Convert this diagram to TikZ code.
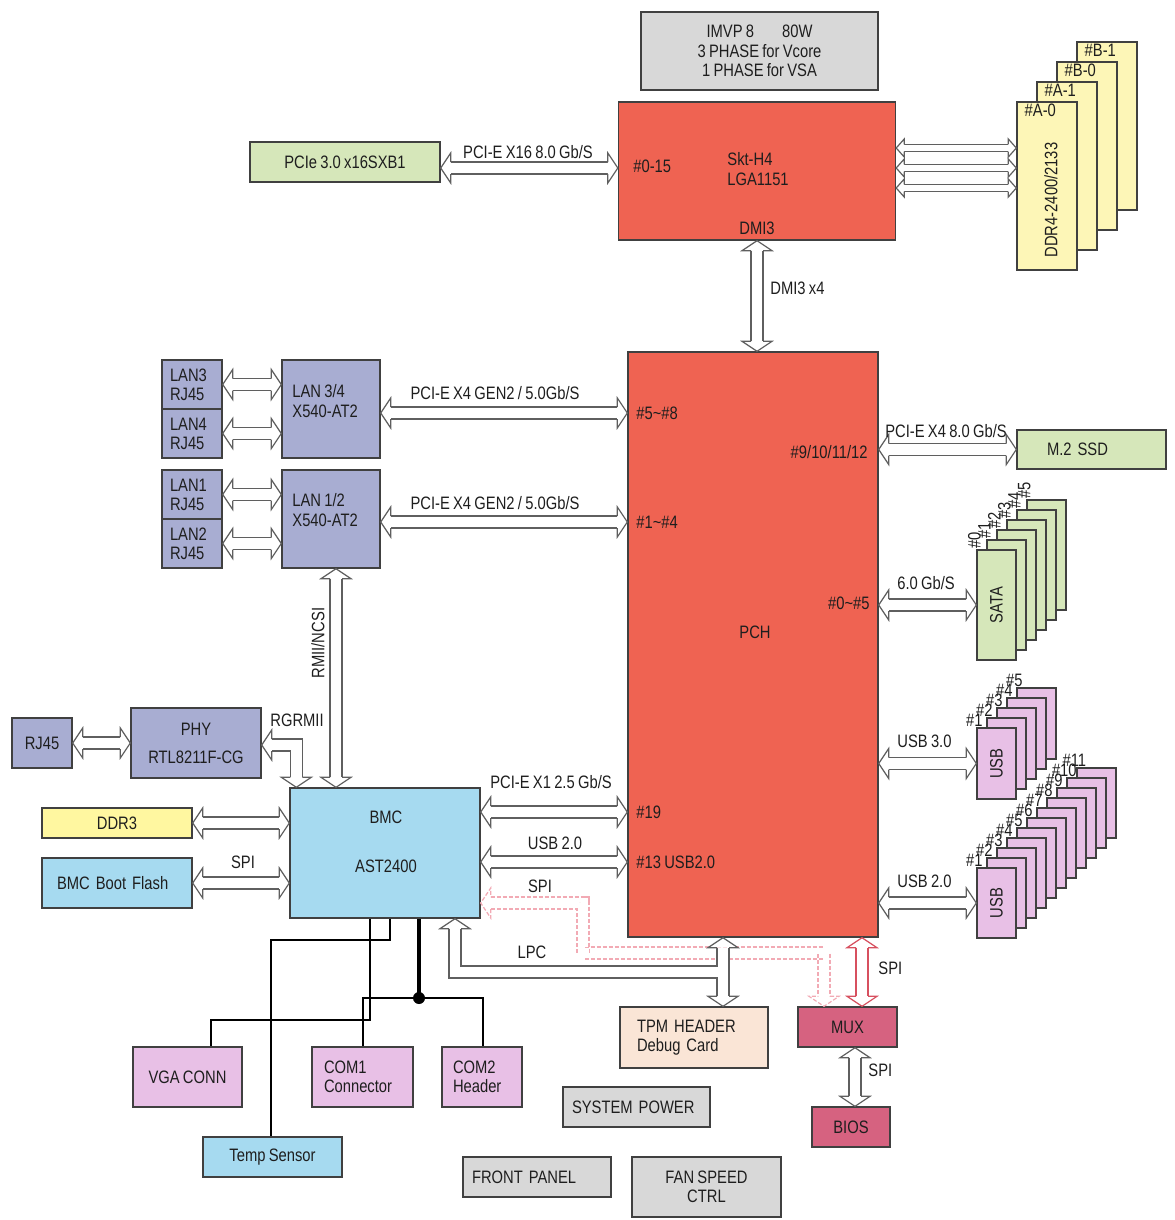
\documentclass[tikz,border=0pt]{standalone}
\usepackage{fontspec}
\setmainfont{Liberation Sans}[FakeStretch=0.82,WordSpace=0.8]
\usetikzlibrary{calc,decorations.markings}

\definecolor{ink}{RGB}{30,30,30}
\definecolor{edge}{RGB}{64,64,64}
\definecolor{arrowgray}{RGB}{95,95,95}
\definecolor{cpured}{RGB}{239,99,82}
\definecolor{lav}{RGB}{168,173,210}
\definecolor{mint}{RGB}{214,231,186}
\definecolor{cream}{RGB}{253,246,183}
\definecolor{butter}{RGB}{255,247,160}
\definecolor{sky}{RGB}{166,218,240}
\definecolor{orchid}{RGB}{232,192,230}
\definecolor{peach}{RGB}{250,229,214}
\definecolor{rose}{RGB}{214,98,128}
\definecolor{ash}{RGB}{216,216,216}
\definecolor{spired}{RGB}{215,80,95}
\definecolor{spipale}{RGB}{242,170,180}

\newcommand\dgfont{\fontsize{9}{9.6}\selectfont}
\newcommand\fhl{5pt}
\newcommand\fhw{7.5pt}
\newcommand\fsw{3pt}
% hollow head, tip at the origin, pointing along +x
\newcommand\drawhead[1]{%
  \fill[white] (0,0) -- (-\fhl,\fhw) -- (-\fhl,-\fhw) -- cycle;
  \draw[draw=#1, shorten <=0pt, shorten >=0pt] (-\fhl,\fsw) -- (-\fhl,\fhw)
    -- (0,0) -- (-\fhl,-\fhw) -- (-\fhl,-\fsw);}

\tikzset{
  box/.style={draw=edge, line width=.7pt, inner sep=0pt, font=\dgfont,
    text=ink, align=center},
  sz/.style 2 args={minimum width=#1*0.5pt, minimum height=#2*0.5pt},
  txt/.style={font=\dgfont, text=ink, inner sep=1pt},
  wire/.style={draw=black, line width=1.2pt},
  shaft/.style={draw=#1, double=white, double distance=5.4pt, line width=.6pt},
  headstart/.style={postaction={decorate, decoration={markings,
    mark=at position 0 with {\begin{scope}[rotate=180]\drawhead{#1}\end{scope}}}}},
  headend/.style={postaction={decorate, decoration={markings,
    mark=at position 1 with {\drawhead{#1}}}}},
  fat/.style={shaft=#1, shorten <=\fhl, shorten >=\fhl, headstart=#1,
    headend=#1},
  fat/.default=arrowgray,
  fatone/.style={shaft=#1, shorten <=\fhl, headstart=#1},
  fatone/.default=arrowgray,
  fatsm/.style={/utils/exec={\def\fhl{4pt}\def\fhw{4.5pt}\def\fsw{1.8pt}},
    fat, double distance=3pt},
}

\begin{document}
\begin{tikzpicture}[x=0.5pt,y=-0.5pt,line join=miter]
  \useasboundingbox (0,0) rectangle (1174,1220);

  % CPU, VR and memory
  \node[box, fill=ash, sz={237}{78}] (vr) at (759.5,51)
    {IMVP 8\hspace{14pt}80W\\3 PHASE for Vcore\\1 PHASE for VSA};
  \node[box, fill=cpured, sz={277}{138}] (cpu) at (757,171) {};
  \node[txt, anchor=west, align=left] (skt) at (725,169) {Skt-H4\\LGA1151};
  \node[txt, anchor=west] (cpu015) at (631,166) {\#0-15};
  \node[txt] (cpudmi) at (757,228) {DMI3};
  \node[box, fill=mint, sz={190}{40}] (pcie) at (345,162) {PCIe 3.0 x16SXB1};
  \foreach \k/\nm in {3/B-1,2/B-0,1/A-1,0/A-0}{
    \node[box, fill=cream, sz={60}{168}] (ddr\k) at (1047+20*\k,186-20*\k) {};
    \node[txt, anchor=west] (ddrl\k) at ([xshift=3pt,yshift=-4.5pt]ddr\k.north west)
      {\#\nm};
  }
  \node[txt, rotate=90] (ddrtxt) at (1051,200) {DDR4-2400/2133};

  % PCH and its ports
  \node[box, fill=cpured, sz={250}{585}] (pch) at (753,644.5) {};
  \node[txt] (pchname) at (755,632) {PCH};
  \node[txt, anchor=west] (p58) at (634,413) {\#5\textasciitilde\#8};
  \node[txt, anchor=west] (p14) at (634,522) {\#1\textasciitilde\#4};
  \node[txt, anchor=east] (p912) at (870,452) {\#9/10/11/12};
  \node[txt, anchor=east] (p05) at (872,603) {\#0\textasciitilde\#5};
  \node[txt, anchor=west] (p19) at (634,812) {\#19};
  \node[txt, anchor=west] (p13) at (634,862) {\#13 USB2.0};

  \node[box, fill=lav, sz={98}{98}] (lan34) at (331,409) {};
  \node[txt, anchor=west, align=left] (lan34t) at (290,401) {LAN 3/4\\X540-AT2};
  \node[box, fill=lav, sz={98}{98}] (lan12) at (331,519) {};
  \node[txt, anchor=west, align=left] (lan12t) at (290,510) {LAN 1/2\\X540-AT2};
  \foreach \nm/\y/\lanname in {rj3/384.5/LAN3,rj4/433.5/LAN4,rj1/494.5/LAN1,rj2/543.5/LAN2}
    \node[box, fill=lav, sz={60}{49}, align=left, text width=22pt,
      inner xsep=4pt] (\nm) at (192,\y) {\lanname\\RJ45};

  \node[box, fill=mint, sz={149}{39}, align=left, text width=44.5pt,
    inner xsep=15pt] (m2) at (1091.5,449.5) {M.2 SSD};
  \foreach \k in {5,...,0}{
    \node[box, fill=mint, sz={39}{110}] (sata\k) at (996.5+10*\k,605-10*\k) {};
    \node[txt, rotate=90, anchor=west, inner sep=0pt] (satal\k)
      at ([xshift=-1pt]sata\k.north west) {\#\k};
  }
  \node[txt, rotate=90] (satat) at (sata0) {SATA};
  \foreach \k in {5,...,1}{
    \node[box, fill=orchid, sz={39}{71}] (usbt\k) at (986.5+10*\k,773.5-10*\k) {};
    \node[txt, anchor=south, inner sep=0pt] (usbtl\k)
      at ([xshift=-1pt]usbt\k.north west) {\#\k};
  }
  \node[txt, rotate=90] (usbtt) at (usbt1) {USB};
  \foreach \k in {11,...,1}{
    \node[box, fill=orchid, sz={39}{70}] (usbs\k) at (986.5+10*\k,913-10*\k) {};
    \node[txt, anchor=south, inner sep=0pt] (usbsl\k)
      at ([xshift=-1pt]usbs\k.north west) {\#\k};
  }
  \node[txt, rotate=90] (usbst) at (usbs1) {USB};

  % BMC side
  \node[box, fill=lav, sz={60}{50}] (rjm) at (42,743) {RJ45};
  \node[box, fill=lav, sz={130}{70}] (phy) at (196,743) {PHY\\[4.5pt]RTL8211F-CG};
  \node[box, fill=sky, sz={190}{130}] (bmc) at (385,853) {};
  \node[txt, align=center] (bmct) at (386,842) {BMC\\[15pt]AST2400};
  \node[box, fill=butter, sz={150}{30}] (ddr3) at (117,823) {DDR3};
  \node[box, fill=sky, sz={150}{50}, align=left, text width=60pt,
    inner xsep=7.5pt] (flash) at (117,883) {BMC Boot Flash};

  % bottom row
  \node[box, fill=peach, sz={148}{61}, align=left, text width=57pt,
    inner xsep=8.5pt] (tpm) at (694,1037.5) {TPM HEADER\\Debug Card};
  \node[box, fill=rose, sz={99}{40}] (mux) at (847.5,1027) {MUX};
  \node[box, fill=rose, sz={78}{40}] (bios) at (851,1127) {BIOS};
  \node[box, fill=orchid, sz={109}{60}] (vga) at (187.5,1077) {VGA CONN};
  \node[box, fill=orchid, sz={101}{60}, align=left, text width=38.5pt,
    inner xsep=6pt] (com1) at (362.5,1077) {COM1\\Connector};
  \node[box, fill=orchid, sz={80}{60}, align=left, text width=29pt,
    inner xsep=5.5pt] (com2) at (482,1077) {COM2\\Header};
  \node[box, fill=sky, sz={139}{40}] (temp) at (272.5,1157) {Temp Sensor};
  \node[box, fill=ash, sz={147}{40}, align=left, text width=64.5pt,
    inner xsep=4.5pt] (syspwr) at (636.5,1107) {SYSTEM POWER};
  \node[box, fill=ash, sz={148}{40}, align=left, text width=65pt,
    inner xsep=4.5pt] (front) at (537,1177) {FRONT PANEL};
  \node[box, fill=ash, sz={149}{60}] (fan) at (706.5,1187) {FAN SPEED\\CTRL};

  % CPU links
  \draw[fat] ([yshift=-3pt]pcie.east) -- ([yshift=-3pt]pcie.east -| cpu.west);
  \foreach \y in {148,168,188}
    \draw[fatsm] (cpu.east |- 0,\y) -- (ddr0.west |- 0,\y);
  \draw[fat] (cpu.south) -- (cpu.south |- pch.north);
  \node[txt] (lblx16) at (528,152) {PCI-E X16 8.0 Gb/S};
  \node[txt, anchor=west] (lbldmi) at (768,288) {DMI3 x4};

  % LAN links
  \foreach \nm/\lan in {rj3/lan34,rj4/lan34,rj1/lan12,rj2/lan12}
    \draw[fat] (\nm.east) -- (\nm.east -| \lan.west);
  \draw[fat] ([yshift=-2pt]lan34.east) -- ([yshift=-2pt]lan34.east -| pch.west);
  \draw[fat] ([yshift=-1.5pt]lan12.east) -- ([yshift=-1.5pt]lan12.east -| pch.west);
  \node[txt] (lblgen2a) at (495,393) {PCI-E X4 GEN2 / 5.0Gb/S};
  \node[txt] (lblgen2b) at (495,503) {PCI-E X4 GEN2 / 5.0Gb/S};

  % PCH right side
  \draw[fat] (m2.west -| pch.east) -- (m2.west);
  \draw[fat] (sata0.west -| pch.east) -- (sata0.west);
  \draw[fat] (usbt1.west -| pch.east) -- (usbt1.west);
  \draw[fat] (usbs1.west -| pch.east) -- (usbs1.west);
  \node[txt] (lblm2) at (946,431) {PCI-E X4 8.0 Gb/S};
  \node[txt, anchor=west] (lblsata) at (895,583) {6.0 Gb/S};
  \node[txt, anchor=west] (lblusb3) at (895,741) {USB 3.0};
  \node[txt, anchor=west] (lblusb2) at (895,881) {USB 2.0};

  % BMC links
  \draw[fat] (rjm.east) -- (phy.west);
  \coordinate (rgin) at ([xshift=3.5pt]bmc.north west);
  \draw[fat] ([yshift=-1pt]phy.east) -| (rgin);
  \draw[fat] ([xshift=2.5pt]lan12.south) -- ([xshift=2.5pt]lan12.south |- bmc.north);
  \draw[fat] (ddr3.east) -- (ddr3.east -| bmc.west);
  \draw[fat] (flash.east) -- (flash.east -| bmc.west);
  \draw[fat] ([yshift=20.5pt]bmc.east) -- ([yshift=20.5pt]bmc.east -| pch.west);
  \draw[fat] ([yshift=-4.5pt]bmc.east) -- ([yshift=-4.5pt]bmc.east -| pch.west);
  \node[txt, anchor=west] (lblrg) at (268,720) {RGRMII};
  \node[txt, rotate=90] (lblncsi) at (318,643) {RMII/NCSI};
  \node[txt] (lblspi1) at (243,862) {SPI};
  \node[txt] (lblx1) at (551,782) {PCI-E X1 2.5 Gb/S};
  \node[txt] (lblusbb) at (555,843) {USB 2.0};
  \node[txt] (lblspi2) at (540,886) {SPI};

  % SPI, LPC and TPM
  \coordinate (spibend) at (583,953);
  \coordinate (spiend) at (mux.north -| 824,0);
  \draw[fat=spipale, dash pattern=on 2pt off 1pt] ([yshift=-25pt]bmc.east)
    -| (spibend) -| (spiend);
  \draw[fat=spired] (pch.south -| 862,0) -- (mux.north -| 862,0);
  \draw[fat] (mux.south -| 855,0) -- (bios.north -| 855,0);
  \coordinate (tpma) at (pch.south -| 723,0);
  \coordinate (tpmb) at (tpm.north -| 723,0);
  \coordinate (lpcjoin) at (723,972);
  \draw[fat] (tpma) -- (tpmb);
  \draw[fatone] (bmc.south -| 455,0) |- (lpcjoin);
  \draw[white, line width=5.4pt, shorten <=\fhl, shorten >=\fhl] (tpma) -- (tpmb);
  \node[txt] (lbllpc) at (532,952) {LPC};
  \node[txt, anchor=west] (lblspi3) at (876,968) {SPI};
  \node[txt, anchor=west] (lblspi4) at (866,1070) {SPI};

  % sideband wires
  \draw[wire] (bmc.south -| 370,0) -- (370,1020) -| (vga.north -| 211,0);
  \draw[wire] (bmc.south -| 390,0) -- (390,940) -| (temp.north -| 271,0);
  \coordinate (comdot) at (419,998);
  \draw[wire, line width=2.2pt] (bmc.south -| 419,0) -- (comdot);
  \draw[wire] (com1.north -| 363,0) |- (comdot) -| (com2.north -| 483,0);
  \fill (comdot) circle (3pt);
\end{tikzpicture}
\end{document}
